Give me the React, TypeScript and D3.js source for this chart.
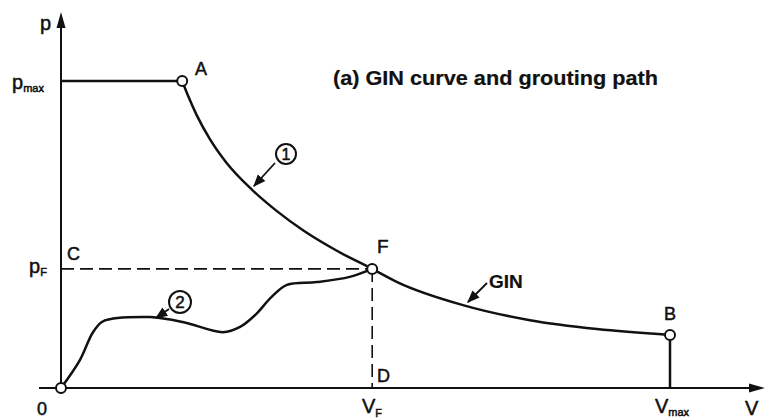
import React from "react";
import * as d3 from "d3";

// GIN envelope (curve 1), from A through F to B
const ginV = [1.99, 2.09, 2.23, 2.45, 2.72, 3.13, 3.54, 3.98, 4.53, 5.11, 5.52, 6.6, 7.7, 8.8, 10];
const ginP = [10, 9.5, 8.88, 8.09, 7.33, 6.47, 5.77, 5.13, 4.47, 3.88, 3.45, 2.7, 2.21, 1.92, 1.73];

// grouting path (curve 2), from 0 to F
const pathV = [0, 0.31, 0.52, 0.67, 0.8, 1.46, 2.0, 2.66, 2.94, 3.2, 3.45, 3.71, 4.2, 4.74, 5.11];
const pathP = [0, 0.91, 1.8, 2.15, 2.24, 2.31, 2.15, 1.82, 1.99, 2.4, 2.95, 3.36, 3.45, 3.62, 3.88];

// characteristic values
const pMax = 10;
const pF = 3.88;
const vF = 5.11;
const vMax = 10;
const pB = 1.73;

const pointNames = ["A", "F", "B"];
const pointV = [1.99, vF, vMax];
const pointP = [pMax, pF, pB];

const title = "(a) GIN curve and grouting path";

const W = 765;
const H = 420;
const FONT = "'Liberation Sans', Arial, Helvetica, sans-serif";

export default function App() {
  const x = d3.scaleLinear().domain([0, 10]).range([61, 670]);
  const y = d3.scaleLinear().domain([0, 10]).range([388, 81]);

  const ginLine = d3
    .line<[number, number]>()
    .x((d) => x(d[0]))
    .y((d) => y(d[1]))
    .curve(d3.curveMonotoneX);

  const pathLine = d3
    .line<[number, number]>()
    .x((d) => x(d[0]))
    .y((d) => y(d[1]))
    .curve(d3.curveCatmullRom.alpha(0.5));

  const ginPts = ginV.map((v, i) => [v, ginP[i]] as [number, number]);
  const pathPts = pathV.map((v, i) => [v, pathP[i]] as [number, number]);

  const x0 = x(0);
  const y0 = y(0);

  const txt = {
    fontFamily: FONT,
    fill: "#111",
    stroke: "#111",
    strokeWidth: 0.5,
  } as const;

  return (
    <svg
      width={W}
      height={H}
      style={{ position: "absolute", left: 0, top: 0, background: "#fff" }}
    >
      <defs>
        <marker id="lead" viewBox="0 0 10 10" refX="9" refY="5" markerWidth="7" markerHeight="7" orient="auto">
          <path d="M0,1 L10,5 L0,9 z" fill="#111" />
        </marker>
      </defs>
      <rect width={W} height={H} fill="#fff" />

      {/* axes */}
      <line x1={x0} y1={y0 + 6} x2={x0} y2={24} stroke="#111" strokeWidth={2} />
      <path d={`M${x0},12 L${x0 - 4.5},28 L${x0 + 4.5},28 Z`} fill="#111" />
      <line x1={39} y1={y0} x2={752} y2={y0} stroke="#111" strokeWidth={2} />
      <path d={`M765,${y0} L749,${y0 - 4.5} L749,${y0 + 4.5} Z`} fill="#111" />

      {/* dashed guides through F */}
      <line x1={x0} y1={y(pF)} x2={x(vF)} y2={y(pF)} stroke="#111" strokeWidth={1.6} strokeDasharray="13 6" />
      <line x1={x(vF)} y1={y(pF)} x2={x(vF)} y2={y0} stroke="#111" strokeWidth={1.6} strokeDasharray="13 6" />

      {/* pmax plateau and B drop */}
      <line x1={x0} y1={y(pMax)} x2={x(pointV[0])} y2={y(pMax)} stroke="#111" strokeWidth={2.5} />
      <line x1={x(vMax)} y1={y(pB)} x2={x(vMax)} y2={y0} stroke="#111" strokeWidth={2.5} />

      {/* curves */}
      <path d={ginLine(ginPts) ?? ""} fill="none" stroke="#111" strokeWidth={2.5} />
      <path d={pathLine(pathPts) ?? ""} fill="none" stroke="#111" strokeWidth={2.5} />

      {/* point markers */}
      {pointNames.map((n, i) => (
        <circle key={n} cx={x(pointV[i])} cy={y(pointP[i])} r={5} fill="#fff" stroke="#111" strokeWidth={2} />
      ))}
      <circle cx={x0} cy={y0} r={5} fill="#fff" stroke="#111" strokeWidth={2} />

      {/* leaders */}
      <line x1={275} y1={163} x2={254} y2={186} stroke="#111" strokeWidth={1.8} markerEnd="url(#lead)" />
      <line x1={169} y1={309} x2={156} y2={318} stroke="#111" strokeWidth={1.8} markerEnd="url(#lead)" />
      <line x1={487} y1={283} x2={468} y2={302} stroke="#111" strokeWidth={1.8} markerEnd="url(#lead)" />

      {/* circled numbers */}
      <circle cx={286} cy={154} r={10} fill="#fff" stroke="#111" strokeWidth={2} />
      <text x={286} y={160} textAnchor="middle" fontSize={16} {...txt}>1</text>
      <circle cx={180} cy={302} r={11} fill="#fff" stroke="#111" strokeWidth={2} />
      <text x={180} y={308} textAnchor="middle" fontSize={17} {...txt}>2</text>

      {/* point letters */}
      <text x={195} y={75} fontSize={18} {...txt}>A</text>
      <text x={377} y={253} fontSize={19} {...txt}>F</text>
      <text x={664} y={320} fontSize={18} {...txt}>B</text>
      <text x={67} y={260} fontSize={18} {...txt}>C</text>
      <text x={377} y={382} fontSize={18} {...txt}>D</text>
      <text x={489} y={288} fontSize={19} fontWeight="bold" {...txt} strokeWidth={0.2}>GIN</text>

      {/* axis labels */}
      <text x={40} y={30} fontSize={20} {...txt}>p</text>
      <text x={745} y={415} fontSize={20} {...txt}>V</text>
      <text x={37} y={415} fontSize={18} {...txt}>0</text>

      <text x={12} y={89} fontSize={20} {...txt}>
        p<tspan fontSize={11} dy={3}>max</tspan>
      </text>
      <text x={29} y={273} fontSize={20} {...txt}>
        p<tspan fontSize={11} dy={3}>F</tspan>
      </text>
      <text x={362} y={413} fontSize={20} {...txt}>
        V<tspan fontSize={11} dy={4}>F</tspan>
      </text>
      <text x={655} y={413} fontSize={20} {...txt}>
        V<tspan fontSize={11} dy={3}>max</tspan>
      </text>

      {/* title */}
      <text x={333} y={85} fontSize={20} fontWeight="bold" textLength={325} lengthAdjust="spacingAndGlyphs" {...txt} strokeWidth={0.2}>
        {title}
      </text>
    </svg>
  );
}
